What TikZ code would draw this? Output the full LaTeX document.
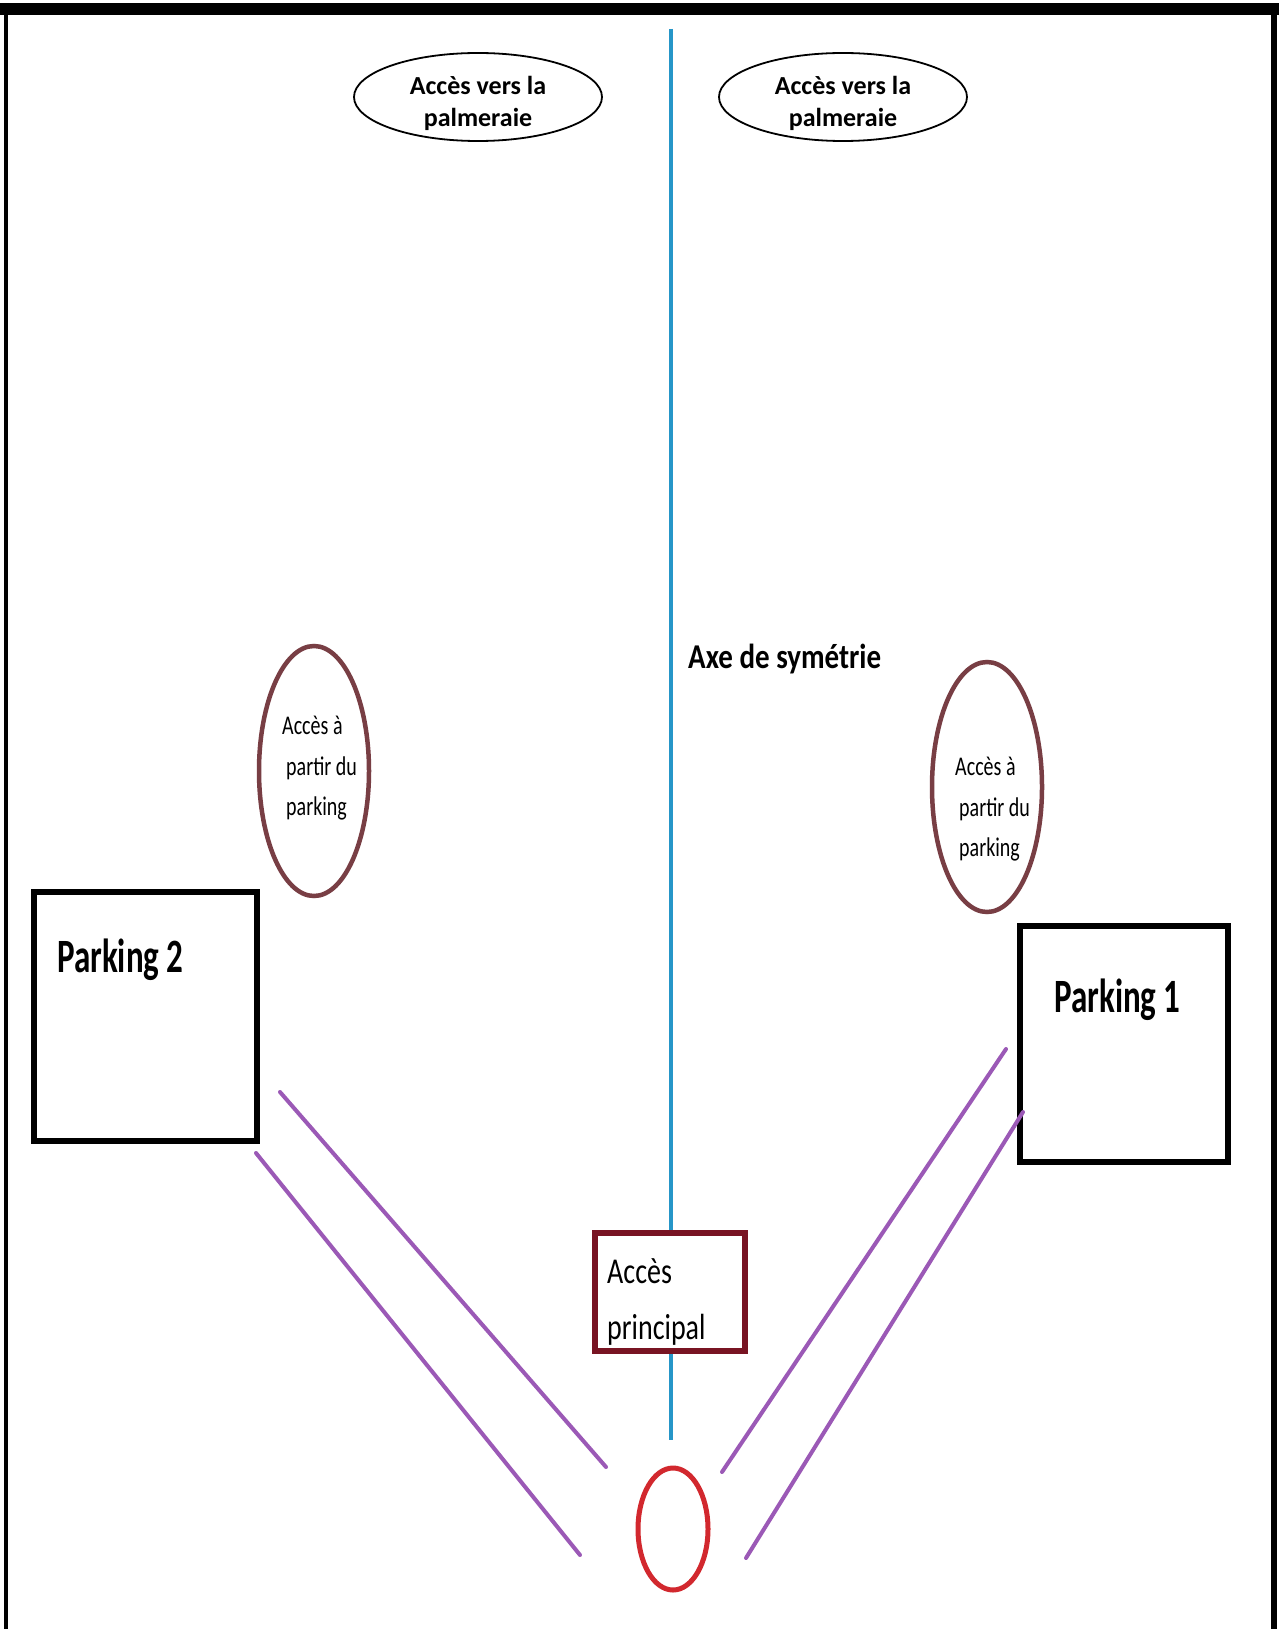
\documentclass[tikz,border=0pt]{standalone}
\usepackage{fontspec}
\setmainfont{Carlito}
\usetikzlibrary{shapes.geometric}
\definecolor{axisblue}{RGB}{38,150,200}
\definecolor{roadpurple}{RGB}{155,89,182}
\definecolor{accbrown}{RGB}{120,62,68}
\definecolor{mainred}{RGB}{120,20,35}
\definecolor{circred}{RGB}{210,40,46}
\newcommand{\vst}[2]{\scalebox{1}[#1]{#2}}
\begin{document}
\begin{tikzpicture}[x=1pt,y=-1pt,
  topell/.style={ellipse,draw=black,line width=1.8pt,minimum width=248pt,minimum height=88pt,inner sep=0pt},
  brownell/.style={ellipse,draw=accbrown,line width=4.5pt,minimum width=110pt,minimum height=250pt,inner sep=0pt},
  parkbox/.style={draw=black,line width=6pt,inner sep=0pt},
  road/.style={draw=roadpurple,line width=4pt,line cap=round},
  toptext/.style={font=\bfseries\fontsize{26}{32}\selectfont,align=center,inner sep=0pt},
  acctext/.style={font=\fontsize{20}{30}\selectfont,inner sep=0pt,anchor=west},
  parktext/.style={font=\bfseries\fontsize{33}{38}\selectfont,inner sep=0pt,anchor=west}]
\useasboundingbox (0,0) rectangle (1279,1629);
\fill[white] (0,0) rectangle (1279,1629);
% frame
\coordinate (tl) at (5.5,9);
\coordinate (tr) at (1274,9);
\coordinate (bl) at (5.5,1629);
\coordinate (br) at (1274,1629);
\draw[line width=12pt] (0,9) -- (1279,9);
\draw[line width=4pt] (tl) -- (bl);
\draw[line width=6pt] (tr) -- (br);
% axis
\coordinate (axtop) at (671,29);
\coordinate (axbot) at (671,1440);
\draw[axisblue,line width=4pt] (axtop) -- (axbot);
\node[font=\bfseries\fontsize{29}{34}\selectfont,anchor=west,inner sep=0pt] (axe) at (688,659) {\vst{1.2}{Axe de symétrie}};
% top ellipses
\node[topell] (pl) at (478,97) {};
\node[toptext] (plt) at (478,103) {Accès vers la\\palmeraie};
\node[topell] (pr) at (843,97) {};
\node[toptext] (prt) at (843,103) {Accès vers la\\palmeraie};
% brown ellipses
\node[brownell] (al) at (314,771) {};
\node[acctext] (alt) at (282,767) {\vst{1.35}{\begin{tabular}{@{}l@{}}Accès à\\\hspace{4pt}partir du\\\hspace{4pt}parking\end{tabular}}};
\node[brownell] (ar) at (987,787) {};
\node[acctext] (art) at (955,808) {\vst{1.35}{\begin{tabular}{@{}l@{}}Accès à\\\hspace{4pt}partir du\\\hspace{4pt}parking\end{tabular}}};
% parking boxes
\draw[parkbox] (34,892) rectangle (257,1141);
\node[parktext] (p2) at (57,960) {\vst{1.45}{Parking 2}};
\draw[parkbox] (1020,926) rectangle (1228,1162);
\node[parktext] (p1) at (1054,1000) {\vst{1.45}{Parking 1}};
% roads
\coordinate (l1a) at (280,1092); \coordinate (l1b) at (606,1467);
\coordinate (l2a) at (256,1153); \coordinate (l2b) at (580,1555);
\coordinate (r1a) at (1006,1049); \coordinate (r1b) at (722,1472);
\coordinate (r2a) at (1023,1112); \coordinate (r2b) at (746,1558);
\draw[road] (l1a) -- (l1b);
\draw[road] (l2a) -- (l2b);
\draw[road] (r1a) -- (r1b);
\draw[road] (r2a) -- (r2b);
% main access
\node[draw=mainred,fill=white,line width=6pt,minimum width=150pt,minimum height=118pt,inner sep=0pt] (acc) at (670,1292) {};
\node[font=\fontsize{28}{43}\selectfont,anchor=west,inner sep=0pt] (acct) at (607,1300) {\vst{1.3}{\begin{tabular}{@{}l@{}}Accès\\principal\end{tabular}}};
% roundabout
\node[ellipse,draw=circred,line width=5pt,minimum width=70pt,minimum height=122pt,inner sep=0pt] (rond) at (673,1529) {};
\end{tikzpicture}
\end{document}
